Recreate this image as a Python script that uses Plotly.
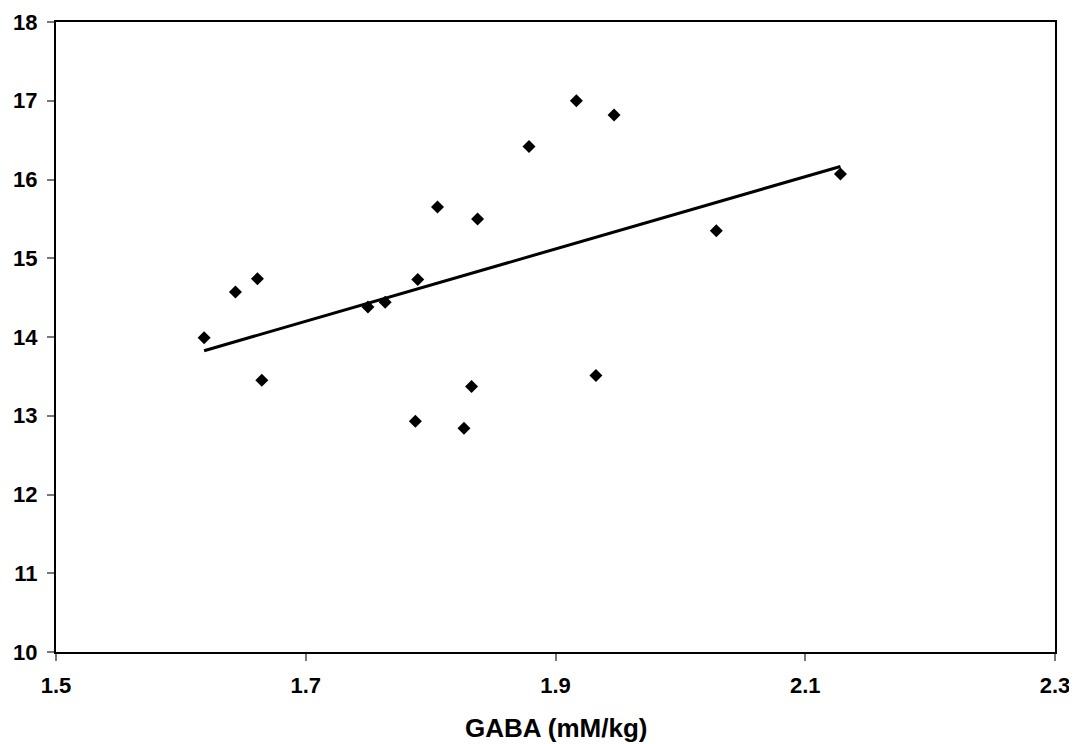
import numpy as np
import plotly.graph_objects as go

gaba = [1.6186, 1.6437, 1.6613, 1.6648, 1.7498, 1.7636, 1.7897, 1.7878, 1.8055,
        1.8267, 1.8328, 1.8376, 1.8788, 1.9167, 1.9324, 1.9469, 2.0288, 2.1282]
yvals = [13.99, 14.57, 14.74, 13.45, 14.38, 14.44, 14.73, 12.93, 15.65,
         12.84, 13.37, 15.50, 16.42, 17.00, 13.51, 16.82, 15.35, 16.07]
x_ticks = [1.5, 1.7, 1.9, 2.1, 2.3]
y_ticks = [10, 11, 12, 13, 14, 15, 16, 17, 18]
x_title = "GABA (mM/kg)"

slope, intercept = np.polyfit(gaba, yvals, 1)
trend_x = [min(gaba), max(gaba)]
trend_y = [slope * v + intercept for v in trend_x]

fam = "Liberation Sans, Arial, sans-serif"

fig = go.Figure()
fig.add_trace(go.Scatter(x=gaba, y=yvals, mode="markers",
                         marker=dict(symbol="diamond", size=10, color="black"),
                         showlegend=False))
fig.add_trace(go.Scatter(x=trend_x, y=trend_y, mode="lines",
                         line=dict(color="black", width=3), showlegend=False))

# page body adds an 8px offset, so the figure is 8px smaller and shifted
fig.update_layout(
    width=1069, height=736,
    margin=dict(l=48, r=22, t=14, b=92, autoexpand=False),
    paper_bgcolor="white", plot_bgcolor="white",
    font=dict(family=fam, size=22, color="black"),
    annotations=[dict(text=f"<b>{x_title}</b>", xref="paper", yref="paper",
                      x=0.5, y=0, xanchor="center", yanchor="middle",
                      yshift=-76, showarrow=False,
                      font=dict(family=fam, size=26, color="black"))],
)
fig.update_xaxes(
    range=[1.5, 2.3], tickvals=x_ticks, ticktext=[f"{v:.1f}" for v in x_ticks],
    showgrid=False, zeroline=False, showline=True, linecolor="black", linewidth=2,
    mirror=True, ticks="outside", ticklen=7, tickcolor="#777", tickwidth=1.5,
    ticklabelstandoff=6,
    tickfont=dict(family=fam, size=22, color="black", weight="bold"),
)
fig.update_yaxes(
    range=[10, 18], tickvals=y_ticks, ticktext=[str(v) for v in y_ticks],
    showgrid=False, zeroline=False, showline=True, linecolor="black", linewidth=2,
    mirror=True, ticks="outside", ticklen=7, tickcolor="#777", tickwidth=1.5,
    ticklabelstandoff=5,
    tickfont=dict(family=fam, size=22, color="black", weight="bold"),
)

fig.write_html("out.html")
